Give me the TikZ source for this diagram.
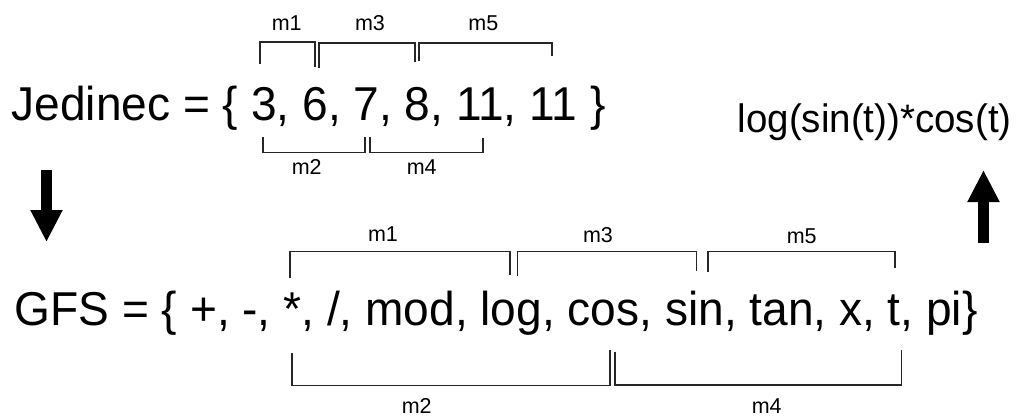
\documentclass[tikz,border=0pt]{standalone}
\usepackage{fontspec}
\setmainfont{Liberation Sans}
\newfontfamily\narrowsans[FakeStretch=0.97]{Liberation Sans}
\usetikzlibrary{arrows.meta}
\begin{document}
\begin{tikzpicture}[x=1pt,y=-1pt,
  bigtext/.style={inner sep=0pt,anchor=base west,font=\narrowsans\fontsize{47.5}{50}\selectfont},
  formula/.style={inner sep=0pt,anchor=base west,font=\narrowsans\fontsize{39.7}{42}\selectfont},
  lbl/.style={inner sep=0pt,anchor=base,font=\fontsize{21.5}{24}\selectfont},
  brk/.style={draw=black!85,line width=1.4pt,line join=miter},
  bigarrow/.style={line width=11pt,-{Triangle[width=30pt,length=32pt]}}]
\useasboundingbox (0,0) rectangle (1019,416);

% main lines of text
\node[bigtext] (jed) at (11.5,120.7) {Jedinec = \{ 3, 6, 7, 8, 11, 11 \}};
\node[bigtext] (gfs) at (14.5,325) {GFS = \{ +, -, *, /, mod, log, cos, sin, tan, x, t, pi\}};
\node[formula] (res) at (737.5,132.3) {log(sin(t))*cos(t)};

% brackets over and under the chromosome
\draw[brk] (260,64) -- (260,42) -- (315,42) -- (315,67);
\draw[brk] (319,68) -- (319,43) -- (415,43) -- (415,62);
\draw[brk] (419,61) -- (419,43) -- (552,43) -- (552,56);
\draw[brk] (263,137) -- (263,152.5) -- (365,152.5) -- (365,137);
\draw[brk] (370,137) -- (370,152.5) -- (483,152.5) -- (483,138);
\node[lbl] (jm1) at (286.7,30.7) {m1};
\node[lbl] (jm3) at (370,30.7) {m3};
\node[lbl] (jm5) at (483.3,30.7) {m5};
\node[lbl] (jm2) at (306.7,174.3) {m2};
\node[lbl] (jm4) at (421.7,174.3) {m4};

% brackets over and under the function set
\draw[brk] (290,278) -- (290,251.5) -- (510,251.5) -- (510,275);
\draw[brk] (517.5,276) -- (517.5,251.5) -- (696.5,251.5) -- (696.5,270.5);
\draw[brk] (708,272) -- (708,251.5) -- (895,251.5) -- (895,268);
\draw[brk] (292,353) -- (292,385.5) -- (610,385.5) -- (610,350);
\draw[brk] (615,351.5) -- (615,385) -- (901.5,385) -- (901.5,350);
\node[lbl] (gm1) at (383,241.7) {m1};
\node[lbl] (gm3) at (598,242) {m3};
\node[lbl] (gm5) at (801.7,243) {m5};
\node[lbl] (gm2) at (416.7,413) {m2};
\node[lbl] (gm4) at (766.7,413) {m4};

% decoding arrows
\coordinate (downA) at (46.5,170);
\coordinate (downB) at (46.5,242);
\coordinate (upA) at (983.5,243);
\coordinate (upB) at (983.5,170);
\draw[bigarrow] (downA) -- (downB);
\draw[bigarrow] (upA) -- (upB);
\end{tikzpicture}
\end{document}
